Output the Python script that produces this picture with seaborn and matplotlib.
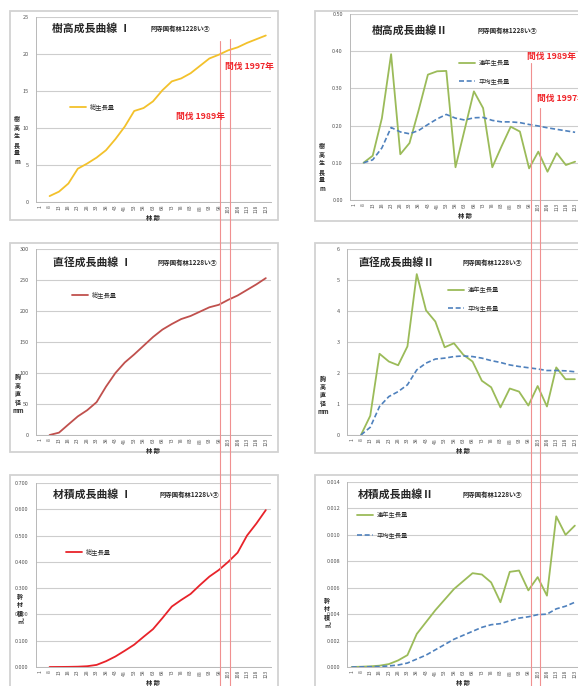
import numpy as np
import pandas as pd
import seaborn as sns
import matplotlib.pyplot as plt
from matplotlib.lines import Line2D
from matplotlib.patches import Rectangle
from matplotlib.ticker import MultipleLocator, FormatStrFormatter

sns.set_style("white")
plt.rcParams['font.family'] = ['Noto Sans CJK JP', 'DejaVu Sans']

nan = np.nan
ages = [1, 8, 13, 18, 23, 28, 33, 38, 43, 48, 53, 58, 63, 68, 73, 78, 83, 88, 93, 98, 103, 108, 113, 118, 123]

# 樹高 (m)
height_total = [nan, 0.8, 1.4, 2.5, 4.5, 5.2, 6.0, 7.0, 8.5, 10.2, 12.3, 12.7, 13.6, 15.1, 16.3, 16.7,
                17.4, 18.4, 19.4, 19.9, 20.5, 20.9, 21.5, 22.0, 22.5]
height_annual = [nan, 0.100, 0.119, 0.22, 0.392, 0.123, 0.153, 0.242, 0.337, 0.346, 0.347, 0.088, 0.19,
                 0.292, 0.247, 0.088, 0.144, 0.197, 0.184, 0.085, 0.130, 0.076, 0.126, 0.094, 0.103]
height_mean = [nan, 0.100, 0.108, 0.14, 0.195, 0.183, 0.178, 0.187, 0.203, 0.218, 0.230, 0.220, 0.215,
               0.221, 0.222, 0.214, 0.210, 0.210, 0.208, 0.203, 0.199, 0.194, 0.190, 0.186, 0.182]

# 胸高直径 (mm)
diam_total = [nan, 0, 3.8, 17, 30, 40, 53, 78, 100, 117, 130, 144, 158, 170, 179, 187, 192, 199, 206,
              210, 218, 225, 234, 243, 253]
diam_annual = [nan, 0, 0.62, 2.62, 2.37, 2.25, 2.86, 5.19, 4.02, 3.66, 2.83, 2.96, 2.59, 2.37, 1.75,
               1.54, 0.89, 1.50, 1.40, 0.95, 1.58, 0.92, 2.18, 1.80, 1.80]
diam_mean = [nan, 0, 0.25, 0.92, 1.24, 1.4, 1.62, 2.1, 2.32, 2.45, 2.48, 2.53, 2.55, 2.53, 2.48, 2.4,
             2.34, 2.26, 2.21, 2.17, 2.13, 2.08, 2.08, 2.07, 2.04]

# 幹材積 (m3)
vol_total = [nan, 0.0, 0.0002, 0.0005, 0.0012, 0.003, 0.008, 0.022, 0.04, 0.062, 0.085, 0.115, 0.144,
             0.186, 0.23, 0.255, 0.278, 0.312, 0.344, 0.369, 0.40, 0.435, 0.50, 0.546, 0.597]
vol_annual = [0.0, 0.00002, 0.00005, 0.0001, 0.00022, 0.0005, 0.0009, 0.0025, 0.0034, 0.0043, 0.0051,
              0.0059, 0.0065, 0.0071, 0.0070, 0.0064, 0.0049, 0.0072, 0.0073, 0.0058, 0.0068, 0.0054,
              0.0114, 0.0100, 0.0107]
vol_mean = [0.0, 0.00001, 0.00002, 0.00004, 0.00008, 0.00015, 0.0003, 0.0006, 0.0009, 0.0013, 0.0017,
            0.0021, 0.0024, 0.0027, 0.0030, 0.0032, 0.00328, 0.0035, 0.0037, 0.0038, 0.00396, 0.0040,
            0.0044, 0.0046, 0.0049]

YELLOW = '#f3c12b'
BROWN = '#c0504d'
RED = '#e8232a'
GREEN = '#9bbb59'
BLUE = '#4f81bd'
SUB = '阿寺国有林1228い③'

W, H = 578, 686
fig = plt.figure(figsize=(W / 100, H / 100), dpi=100)


def fx(x):
    return x / W


def fy(y):
    return 1 - y / H


def add_panel(border, box, ymax, step, fmt, title, tpos, subx, ylab, ylpos):
    l, t, r, b = border
    fig.add_artist(Rectangle((fx(l), fy(b)), (r - l) / W, (b - t) / H, transform=fig.transFigure,
                             facecolor='white', edgecolor='#d2d2d2', lw=1.3, zorder=-5))
    al, at, ar, ab = box
    ax = fig.add_axes([fx(al), fy(ab), (ar - al) / W, (ab - at) / H])
    ax.set_facecolor('none')
    ax.set_xlim(-0.5, 24.5)
    ax.set_ylim(0, ymax)
    ax.set_xticks(range(len(ages)))
    ax.set_xticklabels(ages, rotation=90, fontsize=3.6, color='#555555')
    ax.set_xticks(np.arange(-0.5, 25, 1), minor=True)
    ax.tick_params(axis='x', which='major', length=0, pad=2)
    ax.tick_params(axis='x', which='minor', length=2.5, color='#b0b0b0', width=0.6)
    ax.yaxis.set_major_locator(MultipleLocator(step))
    ax.yaxis.set_major_formatter(FormatStrFormatter(fmt))
    ax.tick_params(axis='y', labelsize=4, labelcolor='#555555', length=2, color='#b0b0b0', width=0.6, pad=3)
    ax.grid(axis='y', color='#cdcdcd', lw=0.8)
    for s in ['top', 'right']:
        ax.spines[s].set_visible(False)
    for s in ['left', 'bottom']:
        ax.spines[s].set_color('#b8b8b8')
        ax.spines[s].set_linewidth(0.7)
    ax.set_xlabel('林 齢', fontsize=4.5, fontweight='bold', labelpad=0.5)
    ax.set_ylabel('')
    fig.text(fx(tpos[0]), fy(tpos[1]), title, fontsize=7.8, fontweight='bold', va='center', ha='left')
    fig.text(fx(subx), fy(tpos[1]), SUB, fontsize=4.6, fontweight='bold', va='center', ha='left')
    fig.text(fx(ylpos[0]), fy(ylpos[1]), ylab, fontsize=4.3, fontweight='bold', va='center', ha='center',
             linespacing=1.25)
    return ax


def place_legend(ax, x, y, spacing=1.6):
    ax.legend(loc='upper left', bbox_to_anchor=(fx(x), fy(y)), bbox_transform=fig.transFigure,
              frameon=False, fontsize=4.5, handlelength=2.6, handletextpad=0.6, borderpad=0,
              borderaxespad=0, labelspacing=spacing)


pos = np.arange(len(ages))

# 樹高成長曲線 I
ax1 = add_panel((10, 11, 278, 220), (35.5, 17, 270.5, 202), 25, 5, '%d', '樹高成長曲線 Ⅰ', (52, 28), 151,
                '樹\n高\n生\n長\n量\nm', (17, 140))
sns.lineplot(x=pos, y=height_total, ax=ax1, color=YELLOW, lw=1.3, label='総生長量')
place_legend(ax1, 70, 103)

# 樹高成長曲線 II
ax2 = add_panel((315, 11, 600, 221), (349.7, 14, 579.7, 200), 0.5, 0.1, '%.2f', '樹高成長曲線Ⅱ', (372, 30), 478,
                '樹\n高\n生\n長\n量\nm', (322, 167))
sns.lineplot(x=pos, y=height_annual, ax=ax2, color=GREEN, lw=1.3, label='連年生長量')
sns.lineplot(x=pos, y=height_mean, ax=ax2, color=BLUE, lw=1.2, linestyle=(0, (3, 1.6)), label='平均生長量')
place_legend(ax2, 459, 59)

# 直径成長曲線 I
ax3 = add_panel((10, 243, 278, 452), (35.5, 249, 270.5, 435), 300, 50, '%d', '直径成長曲線 Ⅰ', (53, 262), 158,
                '胸\n高\n直\n径\nmm', (18, 394))
sns.lineplot(x=pos, y=diam_total, ax=ax3, color=BROWN, lw=1.3, label='総生長量')
place_legend(ax3, 72, 291)

# 直径成長曲線 II
ax4 = add_panel((315, 243, 600, 453), (347, 249, 579.5, 435), 6, 1, '%d', '直径成長曲線Ⅱ', (358, 262), 463,
                '胸\n高\n直\n径\nmm', (323, 395))
sns.lineplot(x=pos, y=diam_annual, ax=ax4, color=GREEN, lw=1.3, label='連年生長量')
sns.lineplot(x=pos, y=diam_mean, ax=ax4, color=BLUE, lw=1.2, linestyle=(0, (3, 1.6)), label='平均生長量')
place_legend(ax4, 448, 286)

# 材積成長曲線 I
ax5 = add_panel((10, 475, 278, 720), (35.5, 483, 270.5, 667), 0.7, 0.1, '%.3f', '材積成長曲線 Ⅰ', (53, 494), 160,
                '幹\n材\n積\n㎥', (20, 609))
sns.lineplot(x=pos, y=vol_total, ax=ax5, color=RED, lw=1.3, label='総生長量')
place_legend(ax5, 66, 548)

# 材積成長曲線 II
ax6 = add_panel((315, 475, 600, 720), (347, 482, 579.5, 667), 0.014, 0.002, '%.3f', '材積成長曲線Ⅱ', (358, 494),
                463, '幹\n材\n積\n㎥', (327, 613))
sns.lineplot(x=pos, y=vol_annual, ax=ax6, color=GREEN, lw=1.3, label='連年生長量')
sns.lineplot(x=pos, y=vol_mean, ax=ax6, color=BLUE, lw=1.2, linestyle=(0, (3, 1.6)), label='平均生長量')
place_legend(ax6, 357, 511, spacing=1.9)

# 間伐 markers
for x, y0 in [(219.5, 41), (230, 39), (530.5, 63), (539.5, 108)]:
    fig.add_artist(Line2D([fx(x), fx(x)], [fy(y0), 0], transform=fig.transFigure, color='#f09090',
                          lw=0.8, zorder=20))
for x, y, s in [(225, 67, '間伐 1997年'), (176, 117, '間伐 1989年'), (527, 57, '間伐 1989年'),
                (537, 98, '間伐 1997年')]:
    fig.text(fx(x), fy(y), s, color='#f0262b', fontsize=6.3, fontweight='bold', va='center', ha='left',
             zorder=21)

fig.savefig('out.png', dpi=100)
